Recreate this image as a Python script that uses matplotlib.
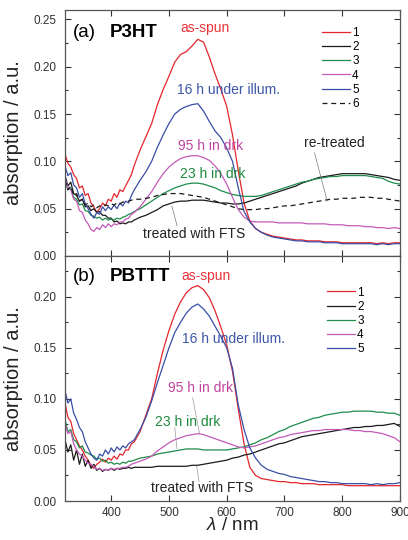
import matplotlib
matplotlib.use("Agg")
import matplotlib.pyplot as plt
from matplotlib.ticker import MultipleLocator

plt.rcParams['font.family'] = ['Liberation Sans', 'DejaVu Sans']
plt.rcParams['mathtext.fontset'] = 'custom'
plt.rcParams['mathtext.it'] = 'Liberation Sans:italic'
plt.rcParams['mathtext.rm'] = 'Liberation Sans'

# wavelength grid (nm): 5 nm steps in the noisy UV part, 10 nm after that
wl = list(range(320, 445, 5)) + list(range(450, 910, 10))

# ---- (a) P3HT ----
p3ht_1 = [0.108, 0.098, 0.094, 0.086, 0.082, 0.072, 0.074, 0.064, 0.066, 0.056, 0.052, 0.046, 0.050,
          0.056, 0.053, 0.060, 0.058, 0.066, 0.062, 0.070, 0.068, 0.074, 0.080, 0.086, 0.096] + \
         [0.112, 0.126, 0.140, 0.160, 0.176, 0.190, 0.205, 0.213, 0.216, 0.222, 0.229, 0.226, 0.210,
          0.192, 0.176, 0.158, 0.128, 0.090, 0.056, 0.037, 0.029, 0.025, 0.023, 0.021, 0.020, 0.019,
          0.018, 0.017, 0.017, 0.016, 0.016, 0.016, 0.015, 0.015, 0.015, 0.014, 0.014, 0.014, 0.014,
          0.014, 0.014, 0.013, 0.014, 0.013, 0.014, 0.014]
p3ht_2 = [0.085, 0.074, 0.078, 0.066, 0.064, 0.058, 0.060, 0.052, 0.053, 0.048, 0.050, 0.046, 0.047,
          0.043, 0.043, 0.040, 0.040, 0.036, 0.037, 0.034, 0.035, 0.034, 0.036, 0.036, 0.038] + \
         [0.041, 0.043, 0.046, 0.049, 0.053, 0.055, 0.057, 0.058, 0.058, 0.059, 0.059, 0.059, 0.058,
          0.057, 0.056, 0.056, 0.055, 0.055, 0.056, 0.058, 0.060, 0.062, 0.064, 0.066, 0.068, 0.070,
          0.072, 0.074, 0.077, 0.079, 0.081, 0.083, 0.084, 0.085, 0.086, 0.087, 0.087, 0.087, 0.087,
          0.087, 0.086, 0.085, 0.084, 0.083, 0.081, 0.080]
p3ht_3 = [0.078, 0.070, 0.072, 0.062, 0.060, 0.054, 0.055, 0.048, 0.047, 0.043, 0.042, 0.040, 0.041,
          0.038, 0.040, 0.038, 0.039, 0.038, 0.040, 0.039, 0.041, 0.042, 0.044, 0.045, 0.047] + \
         [0.050, 0.054, 0.058, 0.062, 0.066, 0.069, 0.072, 0.074, 0.076, 0.077, 0.077, 0.076, 0.074,
          0.072, 0.069, 0.067, 0.065, 0.064, 0.063, 0.063, 0.063, 0.064, 0.066, 0.068, 0.070, 0.072,
          0.074, 0.076, 0.078, 0.079, 0.081, 0.082, 0.083, 0.084, 0.084, 0.085, 0.085, 0.085, 0.085,
          0.085, 0.084, 0.083, 0.082, 0.079, 0.077, 0.076]
p3ht_4 = [0.082, 0.072, 0.070, 0.060, 0.058, 0.048, 0.046, 0.038, 0.034, 0.028, 0.026, 0.030, 0.028,
          0.033, 0.030, 0.034, 0.031, 0.034, 0.033, 0.036, 0.036, 0.039, 0.040, 0.044, 0.046] + \
         [0.052, 0.060, 0.068, 0.078, 0.087, 0.094, 0.099, 0.103, 0.105, 0.106, 0.106, 0.104, 0.101,
          0.095, 0.087, 0.076, 0.062, 0.049, 0.041, 0.037, 0.036, 0.036, 0.036, 0.036, 0.035, 0.035,
          0.035, 0.035, 0.035, 0.034, 0.034, 0.034, 0.034, 0.033, 0.033, 0.033, 0.032, 0.032, 0.032,
          0.031, 0.031, 0.030, 0.030, 0.029, 0.030, 0.029]
p3ht_5 = [0.095, 0.085, 0.088, 0.075, 0.072, 0.062, 0.066, 0.055, 0.050, 0.044, 0.040, 0.046, 0.044,
          0.052, 0.048, 0.052, 0.049, 0.054, 0.050, 0.056, 0.053, 0.058, 0.056, 0.064, 0.070] + \
         [0.080, 0.089, 0.100, 0.115, 0.128, 0.140, 0.150, 0.155, 0.158, 0.160, 0.161, 0.153, 0.142,
          0.132, 0.125, 0.114, 0.100, 0.072, 0.047, 0.036, 0.029, 0.025, 0.022, 0.020, 0.019, 0.018,
          0.017, 0.016, 0.016, 0.015, 0.015, 0.015, 0.014, 0.014, 0.014, 0.013, 0.013, 0.013, 0.013,
          0.013, 0.013, 0.012, 0.013, 0.012, 0.013, 0.013]
p3ht_6 = [0.080, 0.070, 0.074, 0.064, 0.066, 0.058, 0.060, 0.054, 0.056, 0.052, 0.054, 0.051, 0.053,
          0.052, 0.054, 0.053, 0.055, 0.054, 0.056, 0.055, 0.057, 0.057, 0.058, 0.059, 0.060] + \
         [0.060, 0.061, 0.062, 0.064, 0.065, 0.066, 0.066, 0.066, 0.065, 0.064, 0.063, 0.062, 0.060,
          0.058, 0.056, 0.054, 0.052, 0.050, 0.049, 0.049, 0.049, 0.050, 0.050, 0.051, 0.052, 0.053,
          0.053, 0.054, 0.055, 0.056, 0.057, 0.058, 0.059, 0.060, 0.060, 0.061, 0.061, 0.061, 0.062,
          0.062, 0.062, 0.061, 0.061, 0.060, 0.059, 0.058]

# ---- (b) PBTTT ----
pbttt_1 = [0.096, 0.082, 0.078, 0.066, 0.060, 0.054, 0.050, 0.044, 0.040, 0.035, 0.032, 0.036, 0.038,
           0.041, 0.038, 0.042, 0.040, 0.044, 0.041, 0.046, 0.045, 0.050, 0.050, 0.056, 0.058] + \
          [0.068, 0.084, 0.100, 0.125, 0.148, 0.167, 0.183, 0.195, 0.204, 0.209, 0.211, 0.207, 0.199,
           0.186, 0.170, 0.153, 0.127, 0.090, 0.056, 0.033, 0.025, 0.022, 0.021, 0.020, 0.019, 0.019,
           0.018, 0.018, 0.017, 0.017, 0.017, 0.016, 0.016, 0.016, 0.016, 0.016, 0.015, 0.015, 0.015,
           0.015, 0.015, 0.015, 0.015, 0.015, 0.015, 0.015]
pbttt_2 = [0.060, 0.048, 0.055, 0.040, 0.050, 0.036, 0.046, 0.034, 0.040, 0.032, 0.036, 0.030, 0.032,
           0.029, 0.031, 0.030, 0.032, 0.030, 0.032, 0.031, 0.032, 0.032, 0.033, 0.032, 0.033] + \
          [0.033, 0.033, 0.033, 0.034, 0.034, 0.034, 0.034, 0.034, 0.034, 0.035, 0.035, 0.036, 0.037,
           0.038, 0.039, 0.040, 0.042, 0.043, 0.045, 0.046, 0.048, 0.050, 0.052, 0.054, 0.056, 0.057,
           0.059, 0.061, 0.063, 0.064, 0.065, 0.066, 0.067, 0.068, 0.069, 0.070, 0.071, 0.072, 0.072,
           0.073, 0.073, 0.074, 0.074, 0.075, 0.076, 0.073]
pbttt_3 = [0.080, 0.068, 0.070, 0.060, 0.058, 0.052, 0.054, 0.048, 0.047, 0.045, 0.044, 0.041, 0.042,
           0.039, 0.040, 0.037, 0.038, 0.036, 0.037, 0.036, 0.038, 0.037, 0.039, 0.039, 0.040] + \
          [0.042, 0.043, 0.044, 0.046, 0.047, 0.048, 0.049, 0.050, 0.051, 0.051, 0.051, 0.050, 0.050,
           0.050, 0.050, 0.050, 0.051, 0.052, 0.053, 0.055, 0.057, 0.060, 0.062, 0.065, 0.068, 0.070,
           0.073, 0.075, 0.077, 0.079, 0.081, 0.082, 0.084, 0.085, 0.086, 0.087, 0.087, 0.088, 0.088,
           0.088, 0.088, 0.087, 0.087, 0.086, 0.086, 0.084]
pbttt_4 = [0.076, 0.066, 0.068, 0.056, 0.050, 0.046, 0.044, 0.040, 0.037, 0.036, 0.034, 0.031, 0.032,
           0.030, 0.031, 0.030, 0.032, 0.031, 0.032, 0.032, 0.033, 0.033, 0.034, 0.036, 0.037] + \
          [0.039, 0.041, 0.044, 0.049, 0.053, 0.057, 0.060, 0.062, 0.064, 0.065, 0.066, 0.065, 0.063,
           0.061, 0.059, 0.057, 0.055, 0.053, 0.052, 0.053, 0.054, 0.056, 0.058, 0.060, 0.062, 0.063,
           0.065, 0.066, 0.067, 0.068, 0.069, 0.069, 0.070, 0.070, 0.070, 0.070, 0.070, 0.069, 0.069,
           0.068, 0.068, 0.067, 0.066, 0.064, 0.062, 0.058]
pbttt_5 = [0.108, 0.096, 0.100, 0.086, 0.080, 0.072, 0.068, 0.058, 0.052, 0.046, 0.042, 0.040, 0.046,
           0.044, 0.050, 0.046, 0.052, 0.048, 0.053, 0.050, 0.054, 0.052, 0.056, 0.058, 0.060] + \
          [0.070, 0.082, 0.098, 0.116, 0.133, 0.150, 0.165, 0.175, 0.184, 0.190, 0.193, 0.188, 0.181,
           0.171, 0.161, 0.150, 0.130, 0.094, 0.070, 0.052, 0.042, 0.035, 0.031, 0.029, 0.027, 0.026,
           0.024, 0.023, 0.022, 0.021, 0.020, 0.019, 0.019, 0.018, 0.018, 0.017, 0.017, 0.017, 0.017,
           0.017, 0.016, 0.017, 0.016, 0.017, 0.017, 0.018]

RED, BLACK, GREEN, MAGENTA, BLUE = '#e3262d', '#1a1a1a', '#1e8c4a', '#c45ab8', '#3a4ea6'
LW = 0.9

fig = plt.figure(figsize=(4.08, 5.40), dpi=100)
ax1 = fig.add_axes([65/408, 1-256/540, 335/408, 246/540])
ax2 = fig.add_axes([65/408, 1-501/540, 335/408, 245/540])

ax1.plot(wl, p3ht_1, color=RED, lw=LW, label='1')
ax1.plot(wl, p3ht_2, color=BLACK, lw=LW, label='2')
ax1.plot(wl, p3ht_3, color=GREEN, lw=LW, label='3')
ax1.plot(wl, p3ht_4, color=MAGENTA, lw=LW, label='4')
ax1.plot(wl, p3ht_5, color=BLUE, lw=LW, label='5')
ax1.plot(wl, p3ht_6, color=BLACK, lw=LW, ls=(0, (4, 3)), label='6')

ax2.plot(wl, pbttt_1, color=RED, lw=LW, label='1')
ax2.plot(wl, pbttt_2, color=BLACK, lw=LW, label='2')
ax2.plot(wl, pbttt_3, color=GREEN, lw=LW, label='3')
ax2.plot(wl, pbttt_4, color=MAGENTA, lw=LW, label='4')
ax2.plot(wl, pbttt_5, color=BLUE, lw=LW, label='5')

for ax, top in ((ax1, 0.26), (ax2, 0.24)):
    ax.set_xlim(320, 900)
    ax.set_ylim(0, top)
    ax.xaxis.set_major_locator(MultipleLocator(100))
    ax.yaxis.set_major_locator(MultipleLocator(0.05))
    ax.yaxis.set_minor_locator(MultipleLocator(0.025))
    ax.yaxis.set_major_formatter(plt.FormatStrFormatter('%.2f'))
    ax.tick_params(which='both', direction='in', top=True, right=True, width=0.8,
                   colors='#333', labelsize=8.5)
    ax.tick_params(which='major', length=4)
    ax.tick_params(which='minor', length=2.5)
    ax.tick_params(axis='y', pad=6)
    ax.tick_params(axis='x', pad=4)
    for s in ax.spines.values():
        s.set_color('#555')
        s.set_linewidth(0.9)
    ax.set_ylabel('absorption / a.u.', fontsize=14.5, color='#222')
    ax.yaxis.set_label_coords(-0.125, 0.5)
    ax.legend(loc='upper left', frameon=False, fontsize=8.5, handlelength=2.4,
              handletextpad=0.15, labelspacing=0.18, borderpad=0, borderaxespad=0,
              bbox_to_anchor=(0.767, 0.93) if ax is ax1 else (0.782, 0.875))

ax1.tick_params(axis='x', labelbottom=False)
ax2.set_xlabel(r'$\it{\lambda}$ / nm', fontsize=13.5, color='#222')
ax2.xaxis.set_label_coords(0.5, -0.066)

# panel titles
ax1.text(0.024, 0.91, '(a)', transform=ax1.transAxes, fontsize=13.5, va='center')
ax1.text(0.134, 0.91, 'P3HT', transform=ax1.transAxes, fontsize=13.5, fontweight='bold', va='center')
ax2.text(0.024, 0.918, '(b)', transform=ax2.transAxes, fontsize=13.5, va='center')
ax2.text(0.134, 0.918, 'PBTTT', transform=ax2.transAxes, fontsize=13.5, fontweight='bold', va='center')

# annotations (a)
fs = 10
ax1.text(519, 0.2415, 'as-spun', color='#e8333a', fontsize=fs, va='center')
ax1.text(514, 0.175, '16 h under illum.', color='#3d57a8', fontsize=fs, va='center')
ax1.text(515, 0.116, '95 h in drk', color='#c0459f', fontsize=fs, va='center')
ax1.text(519, 0.087, '23 h in drk', color='#1f8a3f', fontsize=fs, va='center')
ax1.text(734, 0.119, 're-treated', color='#222', fontsize=fs, va='center')
ax1.text(455, 0.0235, 'treated with FTS', color='#222', fontsize=fs, va='center')
ax1.plot([752, 774], [0.109, 0.058], color='#777', lw=0.5)
ax1.plot([505, 514], [0.053, 0.032], color='#777', lw=0.5)

# annotations (b)
ax2.text(522, 0.220, 'as-spun', color='#e8333a', fontsize=fs, va='center')
ax2.text(522, 0.159, '16 h under illum.', color='#3d57a8', fontsize=fs, va='center')
ax2.text(498, 0.111, '95 h in drk', color='#c0459f', fontsize=fs, va='center')
ax2.text(476, 0.077, '23 h in drk', color='#1f8a3f', fontsize=fs, va='center')
ax2.text(469, 0.0125, 'treated with FTS', color='#222', fontsize=fs, va='center')
ax2.plot([541, 553], [0.101, 0.066], color='#999', lw=0.5)
ax2.plot([510, 514], [0.072, 0.051], color='#999', lw=0.5)
ax2.plot([548, 552], [0.034, 0.019], color='#999', lw=0.5)

fig.savefig('out.png', dpi=100)
